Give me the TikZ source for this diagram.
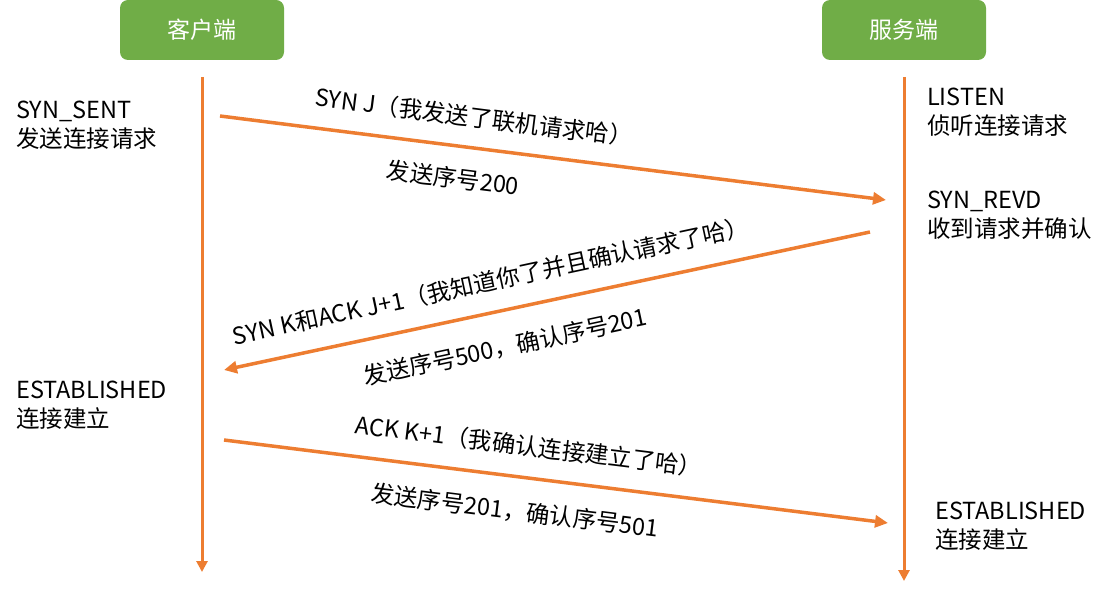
\documentclass[tikz,border=0pt]{standalone}
\usepackage{fontspec}
\setmainfont{Noto Sans CJK SC}
\usetikzlibrary{arrows.meta}

\definecolor{boxgreen}{HTML}{70AD47}
\definecolor{lineorange}{HTML}{ED7D31}

\tikzset{
  endbox/.style={fill=boxgreen, rounded corners=8pt, minimum width=164pt,
    minimum height=60pt, text=white, font=\fontsize{23}{28}\selectfont},
  lifeline/.style={line width=3pt, lineorange, -{Triangle[length=11pt,width=11pt]}},
  msg/.style={line width=3.5pt, lineorange, -{Triangle[length=13pt,width=12pt]}},
  state/.style={anchor=base west, align=left, inner sep=0pt,
    font=\fontsize{23.5}{29}\selectfont},
  msglabel/.style={inner sep=0pt, font=\fontsize{23.5}{29}\selectfont},
}

\begin{document}
\begin{tikzpicture}[x=1pt, y=-1pt]
  \useasboundingbox (0,0) rectangle (1115,593);

  % 两端
  \node[endbox] (client) at (202,30) {客户端};
  \node[endbox] (server) at (904,30) {服务端};

  % 时间线
  \coordinate (cTop) at (202,77);
  \coordinate (cEnd) at (202,572);
  \coordinate (sTop) at (904,77);
  \coordinate (sEnd) at (904,581);
  \draw[lifeline] (cTop) -- (cEnd);
  \draw[lifeline] (sTop) -- (sEnd);

  % 状态 (base = 第二行基线)
  \node[state] (synsent) at (16,148) {SYN\_SENT\\发送连接请求};
  \node[state] (listen) at (927,135) {LISTEN\\侦听连接请求};
  \node[state] (synrevd) at (927,238) {SYN\_REVD\\收到请求并确认};
  \node[state] (estC) at (16,427) {ESTABLISHED\\连接建立};
  \node[state] (estS) at (935,548) {ESTABLISHED\\连接建立};

  % 第一次握手
  \coordinate (m1s) at (220,116);
  \coordinate (m1e) at (886,200);
  \draw[msg] (m1s) -- (m1e);
  \node[msglabel, rotate=-7.2] (m1top) at (474,117) {SYN J（我发送了联机请求哈）};
  \node[msglabel, rotate=-7.2] (m1bot) at (453,178) {发送序号200};

  % 第二次握手
  \coordinate (m2s) at (870,232);
  \coordinate (m2e) at (224,370);
  \draw[msg] (m2s) -- (m2e);
  \node[msglabel, rotate=12.1] (m2top) at (491,281) {SYN K和ACK J+1（我知道你了并且确认请求了哈）};
  \node[msglabel, rotate=12.1] (m2bot) at (505,347) {发送序号500，确认序号201};

  % 第三次握手
  \coordinate (m3s) at (224,440);
  \coordinate (m3e) at (888,523);
  \draw[msg] (m3s) -- (m3e);
  \node[msglabel, rotate=-7.1] (m3top) at (529,446) {ACK K+1（我确认连接建立了哈）};
  \node[msglabel, rotate=-7.1] (m3bot) at (515,511) {发送序号201，确认序号501};
\end{tikzpicture}
\end{document}
